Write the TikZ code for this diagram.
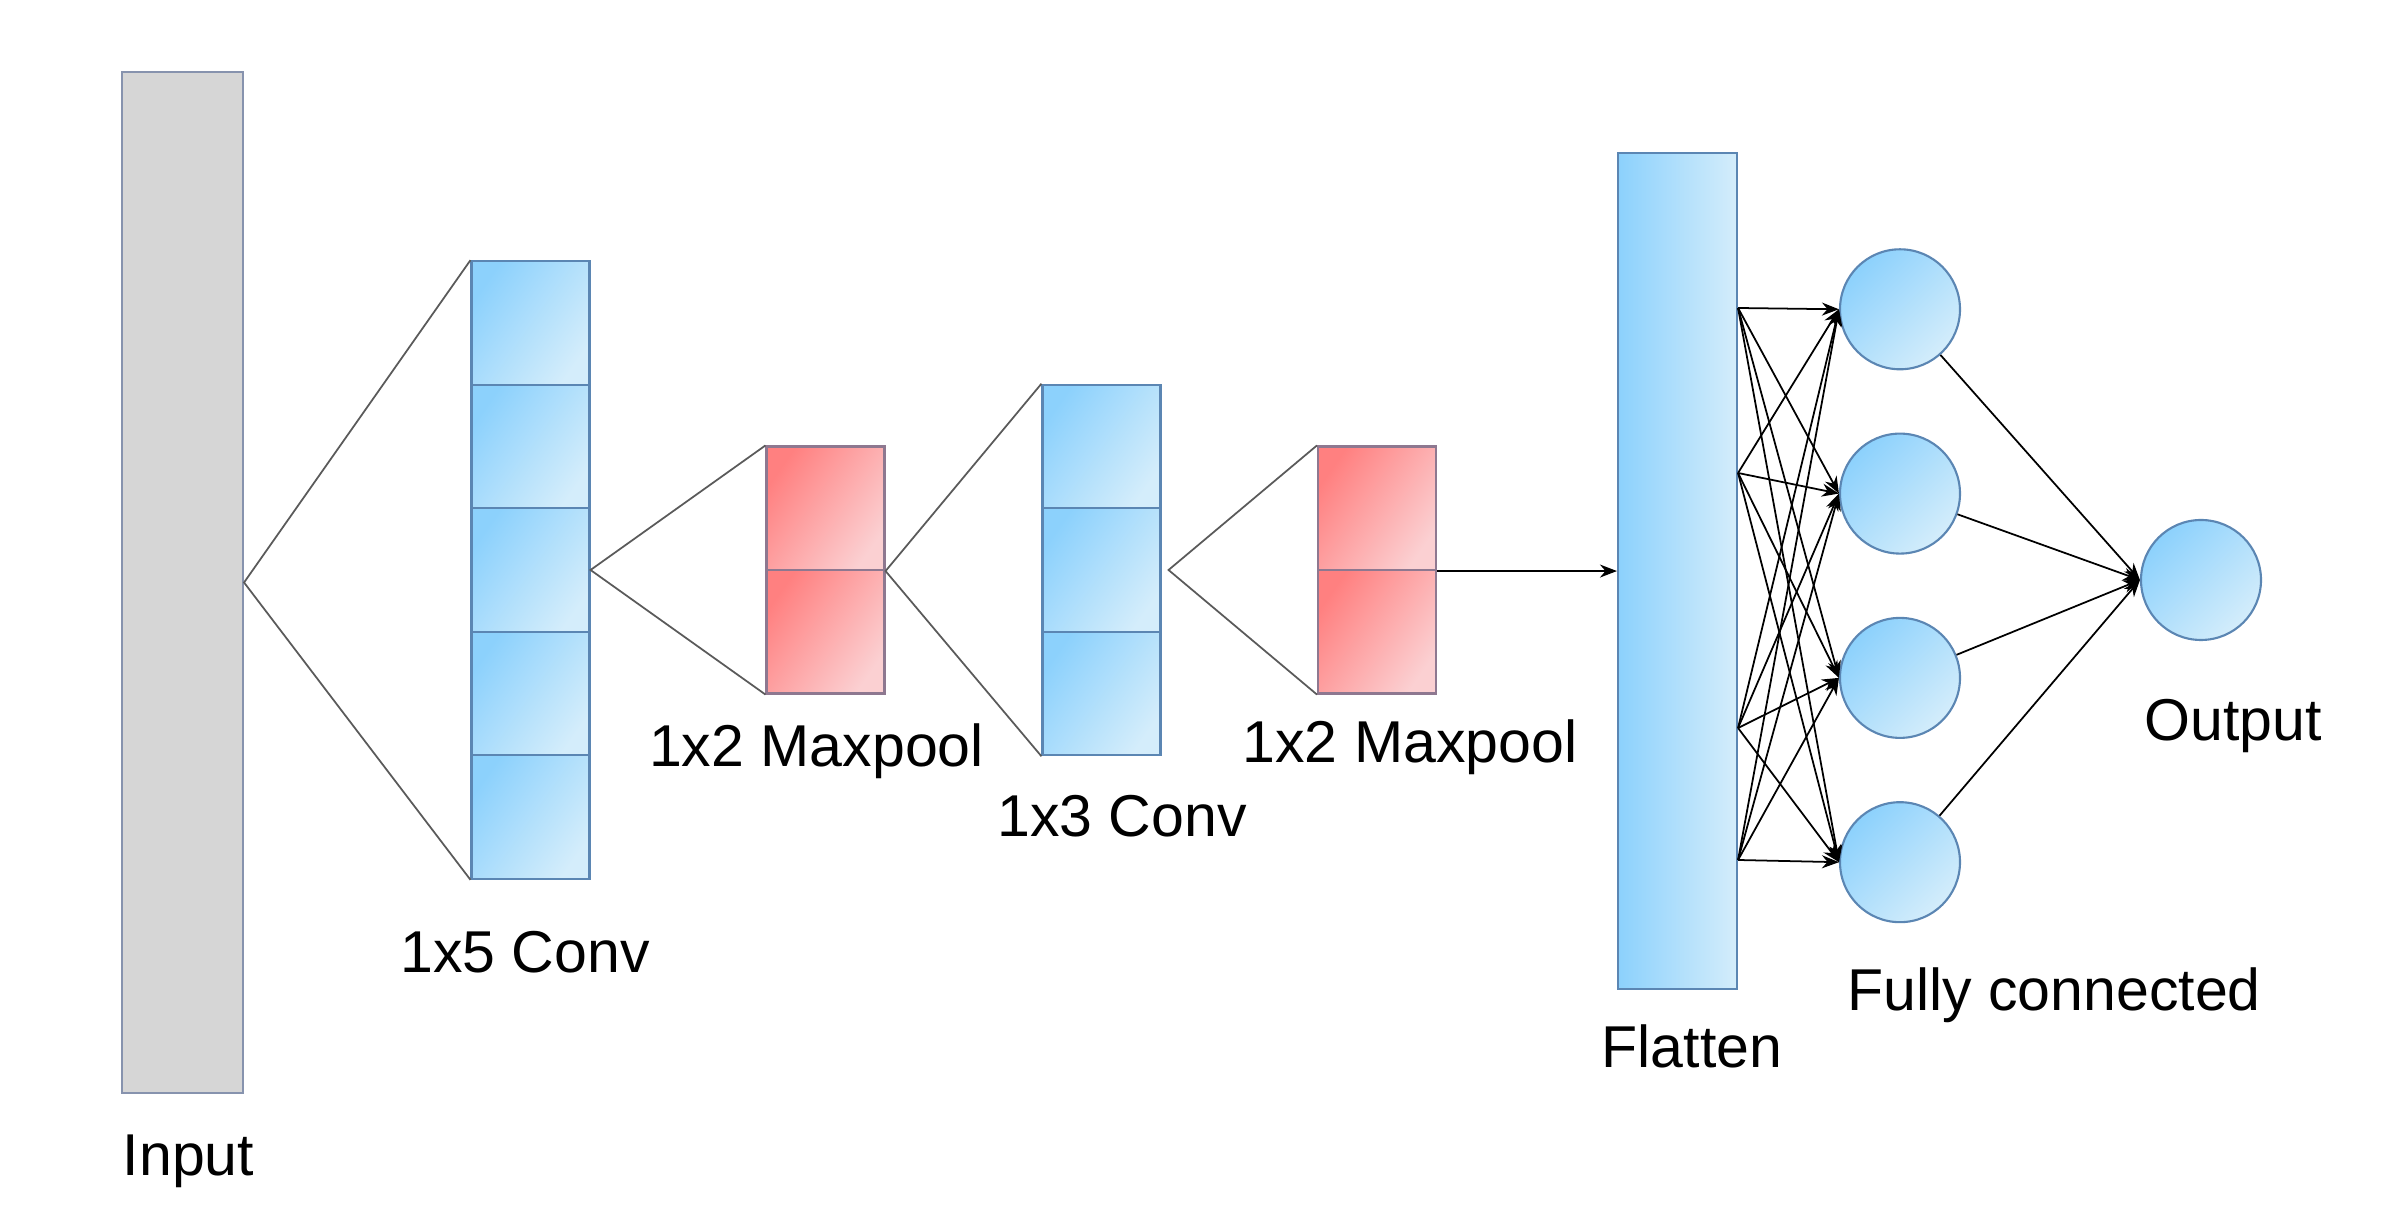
\documentclass[tikz,border=0pt]{standalone}
\usepackage{fontspec}
\setmainfont{Liberation Sans}
\usepackage{tikz}
\usetikzlibrary{arrows.meta, positioning, calc}
\usepackage{xcolor}
\definecolor{inputcol}{HTML}{D6D6D6}
\definecolor{inputborder}{HTML}{8793AE}
\definecolor{bluedark}{HTML}{8CD1FC}
\definecolor{bluelight}{HTML}{D4EDFB}
\definecolor{blueborder}{HTML}{5B86B3}
\definecolor{reddark}{HTML}{FF8080}
\definecolor{redlight}{HTML}{FBD0D2}
\definecolor{redborder}{HTML}{8E7890}
\definecolor{fanline}{HTML}{5A5A5A}

\begin{document}
\begin{tikzpicture}[
    >=Stealth,
    inbox/.style={draw=inputborder, fill=inputcol, line width=0.6pt, inner sep=0pt},
    bluecell/.style={draw=blueborder, left color=bluedark, right color=bluelight, shading angle=55,
        minimum width=1.18cm, minimum height=1.235cm, inner sep=0pt, line width=0.6pt},
    redcell/.style={draw=redborder, left color=reddark, right color=redlight, shading angle=55,
        minimum width=1.18cm, minimum height=1.235cm, inner sep=0pt, line width=0.6pt},
    flatbox/.style={draw=blueborder, left color=bluedark, right color=bluelight,
        inner sep=0pt, line width=0.6pt},
    neuron/.style={circle, draw=blueborder, left color=bluedark, right color=bluelight, shading angle=45,
        minimum size=1.2cm, inner sep=0pt, line width=0.6pt},
    lbl/.style={font=\fontsize{16.8}{20}\selectfont, anchor=base, inner sep=0pt},
    fan/.style={color=fanline, line width=0.5pt},
    arrow/.style={-{Stealth[length=1.7mm, width=1.3mm]}, line width=0.5pt, color=black},
]
\useasboundingbox (0,0) rectangle (23.86,-12.28);

% ============================================================
%  Input
% ============================================================
\node[inbox, minimum width=1.21cm, minimum height=10.21cm] (inp) at (1.825, -5.825) {};
\node[lbl] (lblIn) at (1.885, -11.76) {Input};

% ============================================================
%  Conv / pool columns
% ============================================================
\def\ymid{-5.70}
\def\cellh{1.235}

% --- 1x5 conv ---
\foreach \i in {0,...,4} {
    \pgfmathsetmacro{\yp}{\ymid + (2 - \i)*\cellh}
    \node[bluecell] (convA\i) at (5.305, \yp) {};
}
\node[lbl] (lblConvA) at (5.25, -9.73) {1x5 Conv};

% --- first maxpool ---
\foreach \i in {0,1} {
    \pgfmathsetmacro{\yp}{\ymid + (0.5 - \i)*\cellh}
    \node[redcell] (poolA\i) at (8.255, \yp) {};
}
\node[lbl] (lblPoolA) at (8.165, -7.67) {1x2 Maxpool};

% --- 1x3 conv ---
\foreach \i in {0,...,2} {
    \pgfmathsetmacro{\yp}{\ymid + (1 - \i)*\cellh}
    \node[bluecell] (convB\i) at (11.015, \yp) {};
}
\node[lbl] (lblConvB) at (11.22, -8.37) {1x3 Conv};

% --- second maxpool ---
\foreach \i in {0,1} {
    \pgfmathsetmacro{\yp}{\ymid + (0.5 - \i)*\cellh}
    \node[redcell] (poolB\i) at (13.77, \yp) {};
}
\node[lbl] (lblPoolB) at (14.10, -7.63) {1x2 Maxpool};

% receptive-field fans
\draw[fan] (convA0.north west) -- (inp.east) -- (convA4.south west);
\draw[fan] (poolA0.north west) -- (convA2.east) -- (poolA1.south west);
\draw[fan] (convB0.north west) -- (poolA0.south east) -- (convB2.south west);
\coordinate (apexB) at ([xshift=0.07cm]convB1.east);
\draw[fan] (poolB0.north west) -- (apexB) -- (poolB1.south west);

% ============================================================
%  Flatten + fully connected
% ============================================================
\node[flatbox, minimum width=1.19cm, minimum height=8.36cm] (flat) at (16.775, -5.71) {};
\node[lbl] (lblFlat) at (16.92, -10.68) {Flatten};

\draw[arrow] (poolB0.south east) -- (poolB0.south east -| flat.west);

\foreach \i in {0,...,3} {
    \pgfmathsetmacro{\yp}{-3.093 - \i*1.843}
    \node[neuron] (fc\i) at (19.00, \yp) {};
}
\node[lbl] (lblFc) at (20.54, -10.11) {Fully connected};

\node[neuron] (outp) at (22.01, -5.80) {};
\node[lbl] (lblOut) at (22.33, -7.41) {Output};

% taps on the flatten column
\foreach \i/\yy in {0/-3.08, 1/-4.73, 2/-7.28, 3/-8.60} {
    \coordinate (src\i) at (flat.east |- 0,\yy);
}

\foreach \i in {0,...,3} {
    \foreach \j in {0,...,3} { \draw[arrow] (src\i) -- (fc\j.west); }
}
\foreach \j in {0,...,3} { \draw[arrow] (fc\j) -- (outp.west); }

\end{tikzpicture}
\end{document}
